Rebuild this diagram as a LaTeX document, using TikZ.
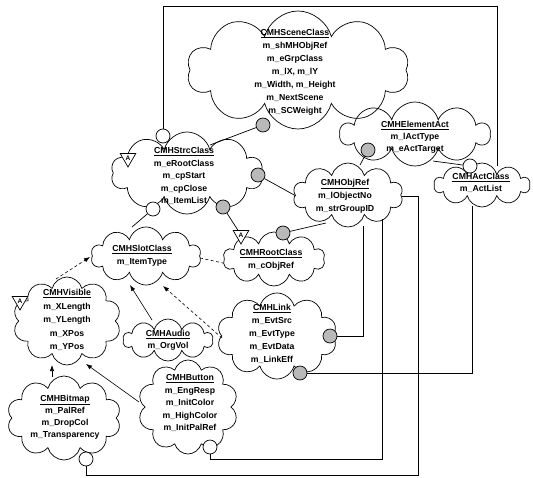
\documentclass[tikz,border=0pt]{standalone}
\usepackage{fontspec}
\setmainfont{Liberation Sans}
\usetikzlibrary{shapes.symbols,shapes.geometric,arrows.meta}
\begin{document}
\begin{tikzpicture}[x=1pt,y=-1pt,
  cls/.style={cloud, cloud puffs=10, cloud ignores aspect, draw, line width=0.7pt, inner sep=0pt},
  txt/.style={align=center, inner sep=0pt, font=\fontsize{8.7}{13}\selectfont\bfseries},
  oc/.style={circle, draw, fill=white, minimum size=14pt, inner sep=0pt, line width=0.7pt},
  hc/.style={circle, draw, fill=gray!55, minimum size=14pt, inner sep=0pt, line width=0.7pt},
  lnk/.style={line width=0.7pt},
  dsh/.style={line width=0.6pt, dash pattern=on 3pt off 2.5pt},
  inh/.style={line width=0.6pt, -{Latex[length=6pt,width=4.5pt]}},
  abst/.style={regular polygon, regular polygon sides=3, shape border rotate=180, draw, fill=white,
    line width=0.7pt, minimum size=18pt, inner sep=0pt, font=\fontsize{6.5}{6.5}\selectfont\bfseries}
]
\useasboundingbox (0,0) rectangle (533,477);

% ---------- clouds ----------
\node[cls, minimum width=222pt, minimum height=118pt] (scene) at (298,70) {};
\node[txt] (sceneT) at (295,72) {\underline{CMHSceneClass}\\m\_shMHObjRef\\m\_eGrpClass\\m\_lX, m\_lY\\m\_Width, m\_Height\\m\_NextScene\\m\_SCWeight};

\node[cls, minimum width=152pt, minimum height=82pt] (base) at (187,173) {};
\node[txt, font=\fontsize{8.7}{12.5}\selectfont\bfseries] (baseT) at (184,176) {\underline{CMHStrcClass}\\m\_eRootClass\\m\_cpStart\\m\_cpClose\\m\_ItemList};

\node[cls, minimum width=150pt, minimum height=64pt] (elem) at (415,134) {};
\node[txt, font=\fontsize{8.7}{12}\selectfont\bfseries] (elemT) at (415,137) {\underline{CMHElementAct}\\m\_lActType\\m\_eActTarget};

\node[cls, minimum width=96pt, minimum height=44pt] (act) at (482,185) {};
\node[txt, font=\fontsize{8.7}{12}\selectfont\bfseries] (actT) at (481,183) {\underline{CMHActClass}\\m\_ActList};

\node[cls, minimum width=110pt, minimum height=64pt] (obj) at (348,195) {};
\node[txt] (objT) at (345,196) {\underline{CMHObjRef}\\m\_lObjectNo\\m\_strGroupID};

\node[cls, minimum width=102pt, minimum height=54pt] (root) at (274,259) {};
\node[txt] (rootT) at (271,260) {\underline{CMHRootClass}\\m\_cObjRef};

\node[cls, minimum width=110pt, minimum height=58pt] (slot) at (146,256) {};
\node[txt] (slotT) at (142,256) {\underline{CMHSlotClass}\\m\_ItemType};

\node[cls, minimum width=108pt, minimum height=88pt] (vis) at (67,321) {};
\node[txt, font=\fontsize{8.7}{13.5}\selectfont\bfseries] (visT) at (67,320) {\underline{CMHVisible}\\m\_XLength\\m\_YLength\\m\_XPos\\m\_YPos};

\node[cls, minimum width=90pt, minimum height=42pt] (aud) at (168,340) {};
\node[txt, font=\fontsize{8.7}{12}\selectfont\bfseries] (audT) at (168,340) {\underline{CMHAudio}\\m\_OrgVol};

\node[cls, minimum width=120pt, minimum height=86pt] (link) at (277,336) {};
\node[txt] (linkT) at (272,334) {\underline{CMHLink}\\m\_EvtSrc\\m\_EvtType\\m\_EvtData\\m\_LinkEff};

\node[cls, minimum width=114pt, minimum height=84pt] (bmp) at (64,418) {};
\node[txt, font=\fontsize{8.7}{12}\selectfont\bfseries] (bmpT) at (65,417) {\underline{CMHBitmap}\\m\_PalRef\\m\_DropCol\\m\_Transparency};

\node[cls, minimum width=100pt, minimum height=94pt] (btn) at (188,407) {};
\node[txt, font=\fontsize{8.7}{12.5}\selectfont\bfseries] (btnT) at (190,403) {\underline{CMHButton}\\m\_EngResp\\m\_InitColor\\m\_HighColor\\m\_InitPalRef};

% ---------- border points ----------
\coordinate (actTop) at (497,166);
\coordinate (baseTR) at (210,145);
\coordinate (objTop) at (360,165);
\coordinate (elemR) at (433,161);
\coordinate (objL) at (296,196);
\coordinate (objBL) at (326,223);
\coordinate (slotTop) at (132,227);
\coordinate (slotR) at (200,258);
\coordinate (rootL) at (223,263);
\coordinate (visTop) at (56,279);
\coordinate (slotL) at (90,257);
\coordinate (audTop) at (152,320);
\coordinate (slotB1) at (130,285);
\coordinate (linkL) at (222,338);
\coordinate (slotB2) at (163,286);
\coordinate (bmpTop) at (52,377);
\coordinate (visB1) at (52,365);
\coordinate (btnL) at (139,402);
\coordinate (visB2) at (86,364);
\coordinate (objB) at (363,226);
\coordinate (actB) at (472,206);
\coordinate (objBR) at (382,219);
\coordinate (objR) at (402,196);

% ---------- adornments ----------
\node[oc] (oBaseTop) at (163,136) {};
\node[hc] (hScene) at (263,125) {};
\node[hc] (hBaseR) at (258,175) {};
\node[hc] (hBaseB) at (223,207) {};
\node[oc] (oBaseBL) at (153,209) {};
\node[hc] (hElem) at (368,150) {};
\node[oc] (oAct) at (470,166) {};
\node[hc] (hRoot) at (283,233) {};
\node[hc] (hLinkT) at (330,336) {};
\node[hc] (hLinkB) at (300,373) {};
\node[oc] (oBtn) at (210,447) {};
\node[oc] (oBmp) at (86,459) {};

\node[abst] (tBase) at (128,158) {A};
\node[abst] (tRoot) at (241,235) {A};
\node[abst] (tVis) at (20,301) {A};

% ---------- connectors ----------
\draw[lnk] (oBaseTop) -- (163,6) -| (actTop);
\draw[lnk] (hScene) -- (baseTR);
\draw[lnk] (hElem) -- (objTop);
\draw[lnk] (elemR) -- (oAct);
\draw[lnk] (hBaseR) -- (objL);
\draw[lnk] (hBaseB) -- (tRoot);
\draw[lnk] (hRoot) -- (objBL);
\draw[lnk] (oBaseBL) -- (slotTop);
\draw[dsh] (slotR) -- (rootL);
\draw[inh, dash pattern=on 3pt off 2.5pt] (visTop) -- (slotL);
\draw[inh] (audTop) -- (slotB1);
\draw[inh, dash pattern=on 3pt off 2.5pt] (linkL) -- (slotB2);
\draw[inh] (bmpTop) -- (visB1);
\draw[inh] (btnL) -- (visB2);
\draw[lnk] (hLinkT) -- (363,336) -- (objB);
\draw[lnk] (hLinkB) -- (472,373) -- (actB);
\draw[lnk] (oBtn) -- (210,459) -- (382,459) -- (objBR);
\draw[lnk] (oBmp) -- (86,475) -- (418,475) -- (418,196) -- (objR);
\end{tikzpicture}
\end{document}
